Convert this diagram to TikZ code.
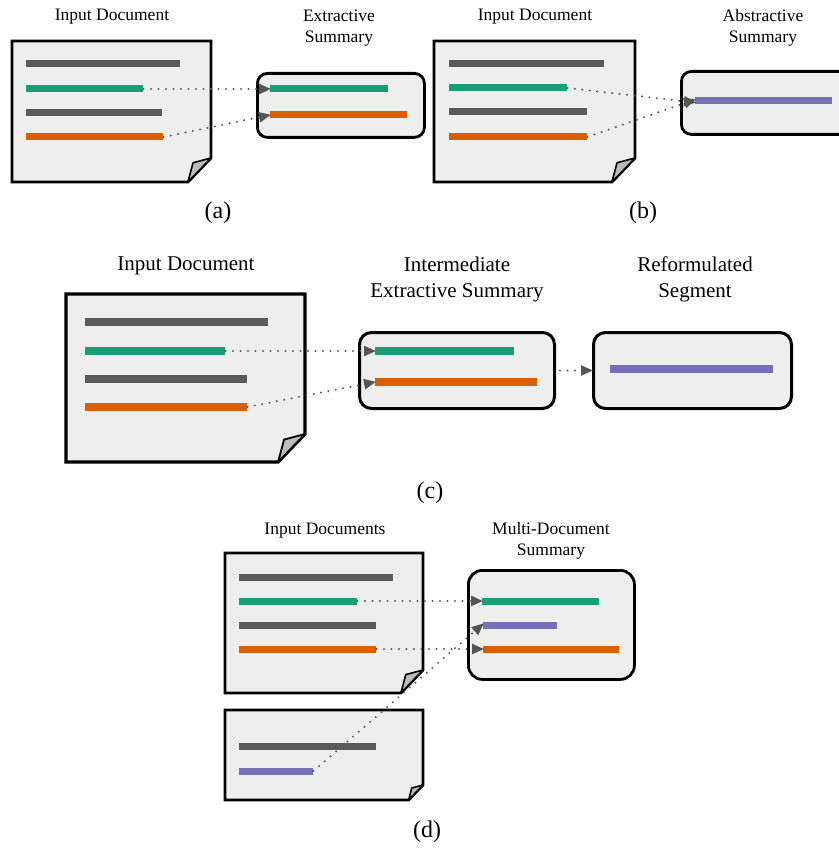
\documentclass[tikz,border=0pt]{standalone}
\usepackage{fontspec}
\setmainfont{Liberation Serif}
\usetikzlibrary{arrows.meta}
\definecolor{bargray}{HTML}{5A5A5A}
\definecolor{bargreen}{HTML}{1B9E77}
\definecolor{barorange}{HTML}{D95F02}
\definecolor{barpurple}{HTML}{7570B3}
\definecolor{paper}{HTML}{EEEEEE}
\definecolor{flapgray}{HTML}{BBBBBB}
\definecolor{dotgray}{HTML}{5E5E5E}
\definecolor{tipgray}{HTML}{555555}
% document shape: #1 left, #2 top, #3 right, #4 bottom, #5 fold size, #6 scale
\newcommand{\mydocshape}[6]{%
  \draw[line width=#6*2.8pt, fill=paper, line join=miter]
    (#1,#2) -- (#3,#2) -- (#3,#4-#5) -- (#3-#5*0.96,#4) -- (#1,#4) -- cycle;
  \draw[line width=#6*1.6pt, fill=flapgray, line join=round]
    (#3,#4-#5) -- (#3-#5*0.75,#4-#5*0.8) -- (#3-#5*0.96,#4) -- cycle;
}
\begin{document}
\begin{tikzpicture}[x=1pt,y=-1pt,
  bar/.style={rectangle, inner sep=0pt, minimum height=7pt, fill=#1, anchor=west},
  bigbar/.style={rectangle, inner sep=0pt, minimum height=8.5pt, fill=#1, anchor=west},
  sumbox/.style={rectangle, draw=black, line width=2.8pt, fill=paper, rounded corners=10pt, inner sep=0pt, anchor=north west},
  arr/.style={draw=dotgray, line width=2.3pt, line cap=round, dash pattern=on 0pt off 7.5pt,
    -{Triangle[length=12pt,width=10pt,color=tipgray,fill=tipgray]}, shorten >=-1pt},
  lab/.style={font=\fontsize{17.5}{21}\selectfont, align=center},
  biglab/.style={font=\fontsize{21}{26}\selectfont, align=center},
  subcap/.style={font=\fontsize{24}{28}\selectfont}
]
\useasboundingbox (0,0) rectangle (838,850);

% ---------------- (a) ----------------
\mydocshape{12}{41}{211}{182}{24}{1}
\node[bar=bargray, minimum width=154pt] (a1) at (26,64) {};
\node[bar=bargreen, minimum width=117pt] (a2) at (26,89) {};
\node[bar=bargray, minimum width=136pt] (a3) at (26,113) {};
\node[bar=barorange, minimum width=137pt] (a4) at (26,137) {};
\node[sumbox, minimum width=167pt, minimum height=64pt] (asum) at (256,72) {};
\node[bar=bargreen, minimum width=118pt] (as1) at (270,89) {};
\node[bar=barorange, minimum width=137pt] (as2) at (270,115) {};
\node[lab] (alab1) at (112,17) {Input Document};
\node[lab] (alab2) at (339,28) {Extractive\\Summary};
\node[subcap] (acap) at (218,213) {(a)};
\draw[arr] (a2.east) -- (as1.west);
\draw[arr] (a4.east) -- (as2.west);

% ---------------- (b) ----------------
\mydocshape{434}{41}{635}{182}{24}{1}
\node[bar=bargray, minimum width=155pt] (b1) at (449,64) {};
\node[bar=bargreen, minimum width=118pt] (b2) at (449,88) {};
\node[bar=bargray, minimum width=138pt] (b3) at (449,112) {};
\node[bar=barorange, minimum width=138pt] (b4) at (449,137) {};
\node[sumbox, minimum width=180pt, minimum height=63pt] (bsum) at (680,70) {};
\node[bar=barpurple, minimum width=137pt] (bs1) at (695,101) {};
\node[lab] (blab1) at (535,17) {Input Document};
\node[lab] (blab2) at (763,28) {Abstractive\\Summary};
\node[subcap] (bcap) at (643,213) {(b)};
\draw[arr] (b2.east) -- ([yshift=-1.5pt]bs1.west);
\draw[arr] (b4.east) -- ([yshift=1.5pt]bs1.west);

% ---------------- (c) ----------------
\mydocshape{66}{294}{305}{462}{28}{1.15}
\node[bigbar=bargray, minimum width=183pt] (c1) at (85,322) {};
\node[bigbar=bargreen, minimum width=140pt] (c2) at (85,351) {};
\node[bigbar=bargray, minimum width=162pt] (c3) at (85,379) {};
\node[bigbar=barorange, minimum width=162pt] (c4) at (85,407) {};
\node[sumbox, minimum width=195pt, minimum height=76pt, line width=3pt, rounded corners=12pt] (csum) at (358,331) {};
\node[bigbar=bargreen, minimum width=139pt] (cs1) at (375,351) {};
\node[bigbar=barorange, minimum width=162pt] (cs2) at (375,382) {};
\node[sumbox, minimum width=198pt, minimum height=76pt, line width=3pt, rounded corners=12pt] (rsum) at (592,331) {};
\node[bigbar=barpurple, minimum width=163pt] (rs1) at (610,369) {};
\node[biglab] (clab1) at (186,266) {Input Document};
\node[biglab] (clab2) at (457,279) {Intermediate\\Extractive Summary};
\node[biglab] (clab3) at (695,279) {Reformulated\\Segment};
\node[subcap] (ccap) at (430,493) {(c)};
\draw[arr] (c2.east) -- (cs1.west);
\draw[arr] (c4.east) -- (cs2.west);
\draw[arr] ([xshift=4pt]csum.east) -- (rsum.west);

% ---------------- (d) ----------------
\mydocshape{225}{553}{423}{693}{23}{1}
\node[bar=bargray, minimum width=154pt] (d1) at (239,577) {};
\node[bar=bargreen, minimum width=118pt] (d2) at (239,601) {};
\node[bar=bargray, minimum width=137pt] (d3) at (239,625) {};
\node[bar=barorange, minimum width=137pt] (d4) at (239,649) {};
\mydocshape{225}{710}{423}{800}{15}{1}
\node[bar=bargray, minimum width=137pt] (e1) at (239,746) {};
\node[bar=barpurple, minimum width=74pt] (e2) at (239,771) {};
\node[sumbox, minimum width=166pt, minimum height=109pt, rounded corners=14pt] (dsum) at (467,569) {};
\node[bar=bargreen, minimum width=117pt] (ds1) at (482,601) {};
\node[bar=barpurple, minimum width=74pt] (ds2) at (483,625) {};
\node[bar=barorange, minimum width=136pt] (ds3) at (483,649) {};
\node[lab] (dlab1) at (325,531) {Input Documents};
\node[lab] (dlab2) at (551,541) {Multi-Document\\Summary};
\node[subcap] (dcap) at (427,832) {(d)};
\draw[arr] (d2.east) -- (ds1.west);
\draw[arr] (d4.east) -- (ds3.west);
\draw[arr] (e2.east) -- ([yshift=1pt]ds2.west);
\end{tikzpicture}
\end{document}
